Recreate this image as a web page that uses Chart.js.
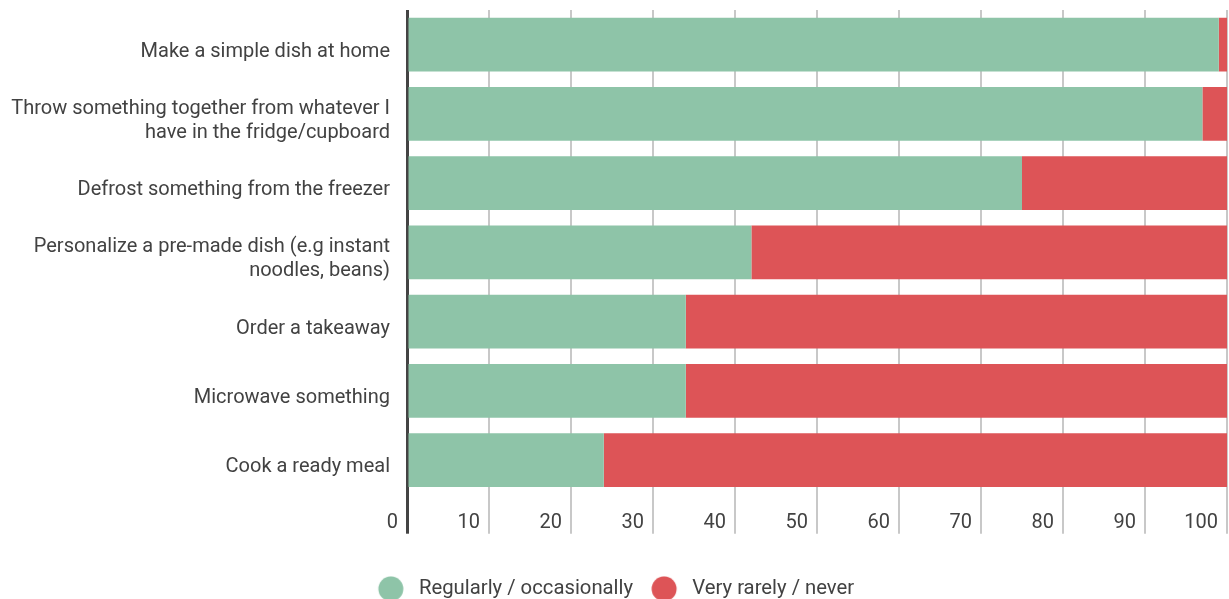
<!DOCTYPE html>
<html>
<head>
<meta charset="utf-8">
<script src="https://cdn.jsdelivr.net/npm/chart.js@4/dist/chart.umd.min.js"></script>
<style>
  html, body { margin: 0; padding: 0; background: #fff; }
  #wrap { width: 1229px; height: 599px; }
</style>
</head>
<body>
<div id="wrap"><canvas id="chart"></canvas></div>
<script>
// Data
const categories = [
    'Make a simple dish at home',
    ['Throw something together from whatever I', 'have in the fridge/cupboard'],
    'Defrost something from the freezer',
    ['Personalize a pre-made dish (e.g instant', 'noodles, beans)'],
    'Order a takeaway',
    'Microwave something',
    'Cook a ready meal'
];
const seriesNames = ['Regularly / occasionally', 'Very rarely / never'];
const regularly = [99, 97, 75, 42, 34, 34, 24];
const rarely = [1, 3, 25, 58, 66, 66, 76];

const GREEN = '#8ec4a8';
const RED = '#dd5457';
const TEXT = '#424242';

Chart.defaults.font.family = 'Roboto';
Chart.defaults.font.size = 20;
Chart.defaults.color = TEXT;

// Legend marker: circle offset inside a wider canvas to get the gap before the text
function legendDot(color) {
    const c = document.createElement('canvas');
    c.width = 44;
    c.height = 26;
    const g = c.getContext('2d');
    g.fillStyle = color;
    g.beginPath();
    g.arc(14, 13, 12.5, 0, Math.PI * 2);
    g.fill();
    return c;
}
const dots = [legendDot(GREEN), legendDot(RED)];

// nudge the legend a little to the right, like the original
const legendShift = {
    id: 'legendShift',
    afterLayout(chart) {
        if (chart.legend) {
            chart.legend.left += 8;
            chart.legend.right += 8;
        }
    }
};

const ctx = document.getElementById('chart').getContext('2d');
new Chart(ctx, {
    type: 'bar',
    data: {
        labels: categories,
        datasets: [
            {
                label: seriesNames[0],
                data: regularly,
                backgroundColor: GREEN,
                barPercentage: 0.775,
                categoryPercentage: 1
            },
            {
                label: seriesNames[1],
                data: rarely,
                backgroundColor: RED,
                barPercentage: 0.775,
                categoryPercentage: 1
            }
        ]
    },
    options: {
        indexAxis: 'y',
        responsive: true,
        maintainAspectRatio: false,
        animation: false,
        events: [],
        layout: {
            padding: { top: 10, right: 2, left: 0, bottom: -10 }
        },
        scales: {
            x: {
                stacked: true,
                min: 0,
                max: 100,
                ticks: {
                    stepSize: 10,
                    align: 'end',
                    labelOffset: -9,
                    padding: -23,
                    color: TEXT,
                    font: { size: 20 }
                },
                grid: {
                    drawTicks: true,
                    tickLength: 39,
                    color: (c) => (c.tick && c.tick.value === 0) ? '#444444' : '#c8c8c8',
                    lineWidth: (c) => (c.tick && c.tick.value === 0) ? 3 : 2
                },
                border: { display: false },
                afterFit: (scale) => {
                    scale.height = 55;
                    scale.paddingLeft = 0;
                    scale.paddingRight = 0;
                }
            },
            y: {
                stacked: true,
                ticks: {
                    padding: 17,
                    labelOffset: 7,
                    color: TEXT,
                    font: { size: 20 }
                },
                grid: { display: false, drawTicks: false },
                border: { display: false },
                afterFit: (scale) => {
                    scale.width = 407;
                    scale.paddingTop = 0;
                    scale.paddingBottom = 0;
                }
            }
        },
        plugins: {
            tooltip: { enabled: false },
            legend: {
                position: 'bottom',
                labels: {
                    usePointStyle: true,
                    boxWidth: 20,
                    boxHeight: 20,
                    padding: 29,
                    color: TEXT,
                    font: { size: 20.3 },
                    generateLabels: (chart) => {
                        const items = Chart.defaults.plugins.legend.labels.generateLabels(chart);
                        items.forEach((item, i) => { item.pointStyle = dots[i]; });
                        return items;
                    }
                }
            }
        }
    },
    plugins: [legendShift]
});
</script>
</body>
</html>
